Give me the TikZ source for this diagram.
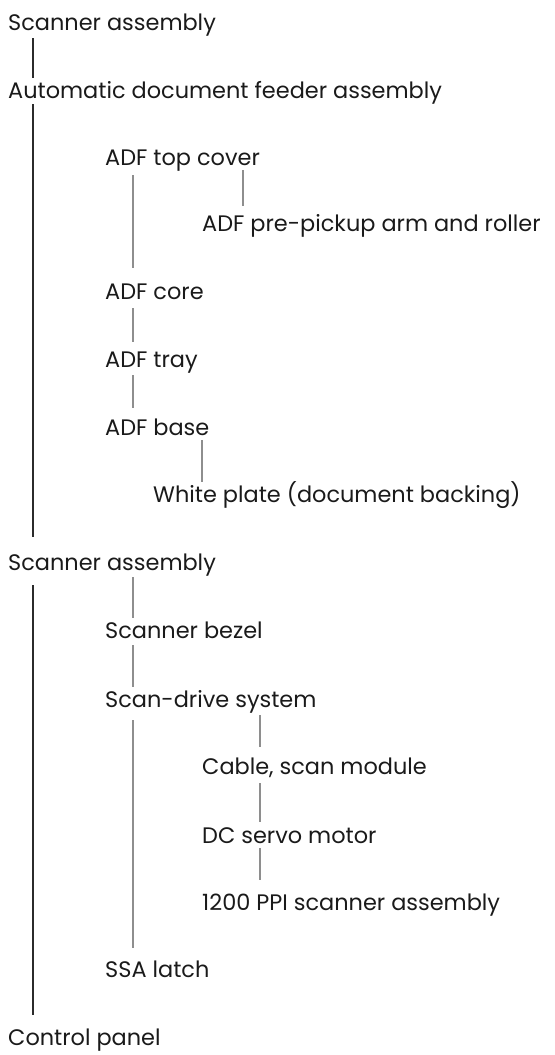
\documentclass[tikz,border=0pt]{standalone}
\usepackage{fontspec}
\setmainfont{Poppins}
\usepackage{xcolor}
\definecolor{trunkgray}{HTML}{2B2B2B}
\definecolor{branchgray}{HTML}{8E8E8E}
\definecolor{inkgray}{HTML}{1A1A1A}
\newcommand\partfont{\fontsize{22.5}{27}\selectfont}
\tikzset{
  part/.style={anchor=base west,inner sep=0pt,text=inkgray,font=\partfont},
  trunk/.style={line width=2.4bp,draw=trunkgray},
  branch/.style={line width=2bp,draw=branchgray}
}

\begin{document}
\begin{tikzpicture}
			[line cap=butt,x=1bp,y=-1bp]
			\useasboundingbox (0,0) rectangle (555,1055);
			\node[part] (scan)  at (8,30)    {Scanner assembly};
			\node[part] (adf)   at (8,98)    {Automatic document feeder assembly};
			\node[part] (top)   at (105,165) {ADF top cover};
			\node[part] (pick)  at (202,231) {ADF pre-pickup arm and roller};
			\node[part] (core)  at (105,299) {ADF core};
			\node[part] (tray)  at (105,367) {ADF tray};
			\node[part] (base)  at (105,435) {ADF base};
			\node[part] (plate) at (153,502) {White plate (document backing)};
			\node[part] (unit)  at (8,570)   {Scanner assembly};
			\node[part] (bezel) at (105,638) {Scanner bezel};
			\node[part] (drive) at (105,707) {Scan-drive system};
			\node[part] (cable) at (202,774) {Cable, scan module};
			\node[part] (motor) at (202,843) {DC servo motor};
			\node[part] (ppi)   at (202,910) {1200 PPI scanner assembly};
			\node[part] (latch) at (105,977) {SSA latch};
			\node[part] (panel) at (8,1045)  {Control panel};
			\draw [trunk] ([shift={(25,8)}]scan.base west) -- ([shift={(25,-20)}]adf.base west);
			\draw [trunk] ([shift={(25,6)}]adf.base west) -- ([shift={(25,-33)}]unit.base west);
			\draw [trunk] ([shift={(25,15)}]unit.base west) -- ([shift={(25,-30)}]panel.base west);
			\draw [branch] ([shift={(28,10)}]top.base west) -- ([shift={(28,-31)}]core.base west);
			\draw [branch] ([shift={(138,5)}]top.base west) -- ([shift={(41,-25)}]pick.base west);
			\draw [branch] ([shift={(28,9)}]core.base west) -- ([shift={(28,-25)}]tray.base west);
			\draw [branch] ([shift={(28,8)}]tray.base west) -- ([shift={(28,-27)}]base.base west);
			\draw [branch] ([shift={(97,5)}]base.base west) -- ([shift={(49,-20)}]plate.base west);
			\draw [branch] ([shift={(125,7)}]unit.base west) -- ([shift={(28,-20)}]bezel.base west);
			\draw [branch] ([shift={(28,7)}]bezel.base west) -- ([shift={(28,-20)}]drive.base west);
			\draw [branch] ([shift={(28,13)}]drive.base west) -- ([shift={(28,-29)}]latch.base west);
			\draw [branch] ([shift={(155,8)}]drive.base west) -- ([shift={(58,-27)}]cable.base west);
			\draw [branch] ([shift={(58,9)}]cable.base west) -- ([shift={(58,-21)}]motor.base west);
			\draw [branch] ([shift={(58,5)}]motor.base west) -- ([shift={(58,-30)}]ppi.base west);
		\end{tikzpicture}
\end{document}
